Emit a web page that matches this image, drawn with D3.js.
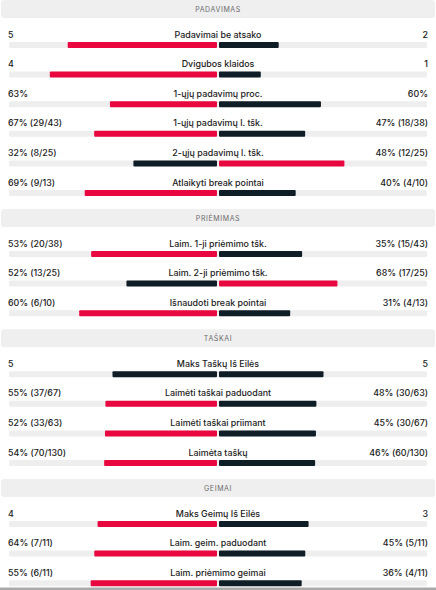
<!DOCTYPE html>
<meta charset="utf-8">
<style>
    body { margin: 0; background: #fff; }
    svg { display: block; font-family: Inter, "Noto Sans", sans-serif; }
    .head-bg { fill: #efefef; }
    .head-text { fill: #6a6a6a; font-size: 7px; letter-spacing: 0.6px; }
    .lbl { fill: #1a1a1a; font-size: 8.9px; font-weight: 500; }
    .track { fill: #eeeeee; }
</style>
<svg width="436" height="590"></svg>
<script src="https://d3js.org/d3.v7.min.js"></script>
<script>

    var sections = ["PADAVIMAS", "PRIĖMIMAS", "TAŠKAI", "GEIMAI"];
    var sectionSize = [6, 3, 4, 3];

    var labels = [
        "Padavimai be atsako", "Dvigubos klaidos", "1-ųjų padavimų proc.",
        "1-ųjų padavimų l. tšk.", "2-ųjų padavimų l. tšk.", "Atlaikyti break pointai",
        "Laim. 1-ji priėmimo tšk.", "Laim. 2-ji priėmimo tšk.", "Išnaudoti break pointai",
        "Maks Taškų Iš Eilės", "Laimėti taškai paduodant", "Laimėti taškai priimant", "Laimėta taškų",
        "Maks Geimų Iš Eilės", "Laim. geim. paduodant", "Laim. priėmimo geimai"
    ];
    var homeValues = [5, 4, 63, 67, 32, 69, 53, 52, 60, 5, 55, 52, 54, 4, 64, 55];
    var awayValues = [2, 1, 60, 47, 48, 40, 35, 68, 31, 5, 48, 45, 46, 3, 45, 36];
    var homeText = ["5", "4", "63%", "67% (29/43)", "32% (8/25)", "69% (9/13)",
        "53% (20/38)", "52% (13/25)", "60% (6/10)",
        "5", "55% (37/67)", "52% (33/63)", "54% (70/130)",
        "4", "64% (7/11)", "55% (6/11)"];
    var awayText = ["2", "1", "60%", "47% (18/38)", "48% (12/25)", "40% (4/10)",
        "35% (15/43)", "68% (17/25)", "31% (4/13)",
        "5", "48% (30/63)", "45% (30/67)", "46% (60/130)",
        "3", "45% (5/11)", "36% (4/11)"];

    var svg = d3.select("svg"),
        width = +svg.attr("width"),
        cx = 218,
        trackL = 9, trackR = 427,
        red = "#e8083f", dark = "#0f1d27";

    // share of (home + away) -> bar length from the centre
    var len = d3.scaleLinear().domain([0, 1]).range([0, cx - trackL]);

    // vertical layout: header, rows, header, rows...
    var rows = [], heads = [], y = 0, idx = 0;
    sections.forEach(function(s, si) {
        heads.push({name: s, y: y});
        for (var k = 0; k < sectionSize[si]; k++) {
            rows.push({i: idx, y: y + 34 + k * 29.6});
            idx++;
        }
        y = y + 34 + (sectionSize[si] - 1) * 29.6 + 27;
    });

    var h = svg.selectAll(".head").data(heads).enter().append("g").attr("class", "head");
    h.append("rect").attr("class", "head-bg")
        .attr("x", 1).attr("y", function(d) { return d.y; })
        .attr("width", width - 2).attr("height", 18).attr("rx", 3);
    h.append("text").attr("class", "head-text")
        .attr("x", cx).attr("y", function(d) { return d.y + 9; })
        .attr("text-anchor", "middle").attr("dominant-baseline", "central")
        .text(function(d) { return d.name; });

    var r = svg.selectAll(".row").data(rows).enter().append("g").attr("class", "row");

    r.append("text").attr("class", "lbl")
        .attr("x", 8).attr("y", function(d) { return d.y; })
        .attr("dominant-baseline", "central")
        .text(function(d) { return homeText[d.i]; });
    r.append("text").attr("class", "lbl")
        .attr("x", cx).attr("y", function(d) { return d.y; })
        .attr("text-anchor", "middle").attr("dominant-baseline", "central")
        .text(function(d) { return labels[d.i]; });
    r.append("text").attr("class", "lbl")
        .attr("x", 428).attr("y", function(d) { return d.y; })
        .attr("text-anchor", "end").attr("dominant-baseline", "central")
        .text(function(d) { return awayText[d.i]; });

    r.append("rect").attr("class", "track")
        .attr("x", trackL).attr("y", function(d) { return d.y + 8; })
        .attr("width", trackR - trackL).attr("height", 6).attr("rx", 1.5);

    function share(a, b) { return a + b === 0 ? 0 : a / (a + b); }

    r.append("rect")
        .attr("x", function(d) { return cx - 1 - len(share(homeValues[d.i], awayValues[d.i])); })
        .attr("y", function(d) { return d.y + 8; })
        .attr("width", function(d) { return len(share(homeValues[d.i], awayValues[d.i])); })
        .attr("height", 6).attr("rx", 1)
        .attr("fill", function(d) { return homeValues[d.i] > awayValues[d.i] ? red : dark; });

    r.append("rect")
        .attr("x", cx + 1)
        .attr("y", function(d) { return d.y + 8; })
        .attr("width", function(d) { return len(share(awayValues[d.i], homeValues[d.i])); })
        .attr("height", 6).attr("rx", 1)
        .attr("fill", function(d) { return awayValues[d.i] > homeValues[d.i] ? red : dark; });

    // edge of the next block at the bottom
    svg.append("rect").attr("x", 0).attr("y", 587.5)
        .attr("width", width).attr("height", 3).attr("fill", "#a9a9a9");
</script>
